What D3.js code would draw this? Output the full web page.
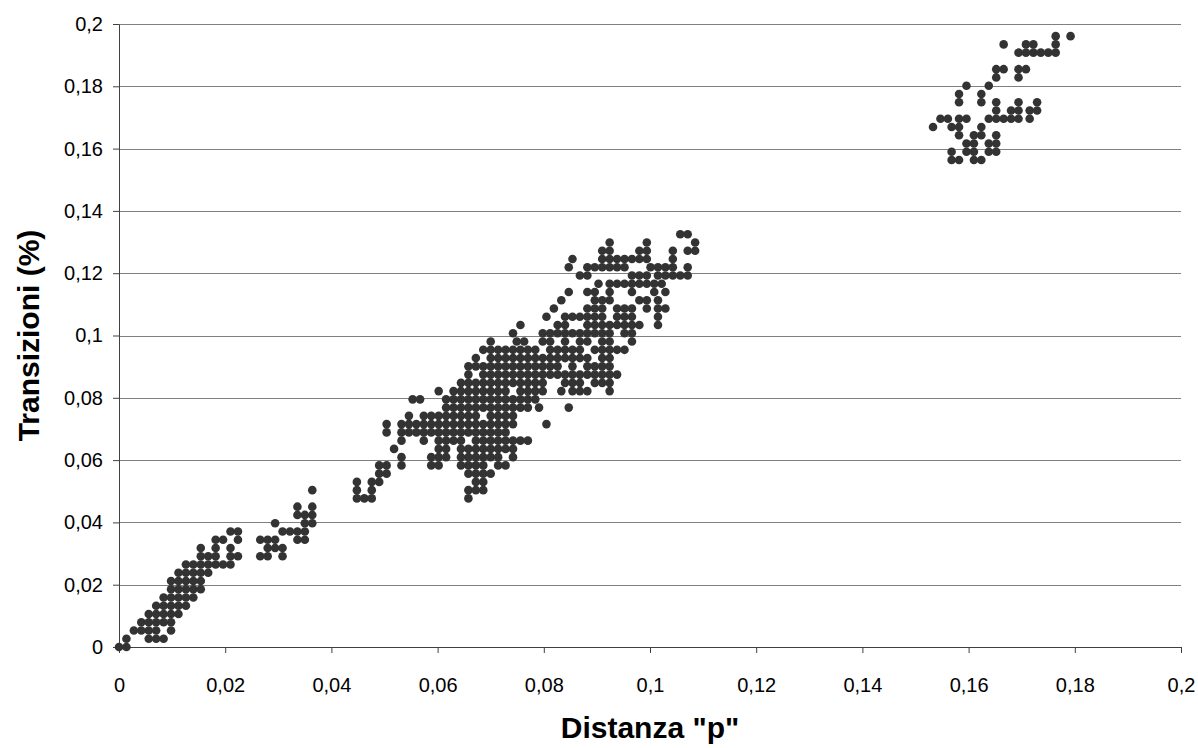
<!DOCTYPE html>
<html><head><meta charset="utf-8">
<script src="https://cdn.jsdelivr.net/npm/d3@7"></script>
<style>
body{margin:0;background:#fff}
svg{display:block}
</style>
</head><body>
<svg id="chart" width="1198" height="748"></svg>
<script>
const xTicks = [0, 0.02, 0.04, 0.06, 0.08, 0.1, 0.12, 0.14, 0.16, 0.18, 0.2];
const xTickLabels = ["0", "0,02", "0,04", "0,06", "0,08", "0,1", "0,12", "0,14", "0,16", "0,18", "0,2"];
const yTicks = [0, 0.02, 0.04, 0.06, 0.08, 0.1, 0.12, 0.14, 0.16, 0.18, 0.2];
const yTickLabels = ["0", "0,02", "0,04", "0,06", "0,08", "0,1", "0,12", "0,14", "0,16", "0,18", "0,2"];
const xTitle = 'Distanza "p"';
const yTitle = 'Transizioni (%)';

// y value of each row of points (Transizioni)
const rowY = [
  0, 0.00265, 0.0053, 0.00795, 0.0106, 0.01325, 0.0159, 0.01855, 0.0212, 0.02385,
  0.0265, 0.02915, 0.0318, 0.03445, 0.0371, 0.03975, 0.0424, 0.04505, 0.0477, 0.05035,
  0.053, 0.05565, 0.0583, 0.06095, 0.0636, 0.06625, 0.0689, 0.07155, 0.0742, 0.07685,
  0.0795, 0.08215, 0.0848, 0.08745, 0.0901, 0.09275, 0.0954, 0.09805, 0.1007, 0.10335,
  0.106, 0.10865, 0.1113, 0.11395, 0.1166, 0.11925, 0.1219, 0.12455, 0.1272, 0.12985,
  0.1325,
  0.15635, 0.159, 0.16165, 0.1643, 0.16695, 0.1696, 0.17225, 0.1749, 0.17755, 0.1802,
  0.18285, 0.1855, 0.1908, 0.19345, 0.1961
];
// x values (Distanza "p") of the points in each row
const rowX = [
  [0, 0.0014],
  [0.0014, 0.0056, 0.007, 0.0084],
  [0.0028, 0.0042, 0.0056, 0.007, 0.0098],
  [0.0042, 0.0056, 0.007, 0.0084, 0.0098],
  [0.0056, 0.007, 0.0084, 0.0098, 0.0112],
  [0.007, 0.0084, 0.0098, 0.0112, 0.0126],
  [0.0084, 0.0098, 0.0112, 0.0126, 0.014],
  [0.0098, 0.0112, 0.0126, 0.014, 0.0154],
  [0.0098, 0.0112, 0.0126, 0.014, 0.0154],
  [0.0112, 0.0126, 0.014, 0.0154, 0.0168],
  [0.0126, 0.014, 0.0154, 0.0168, 0.0182, 0.0196, 0.021],
  [0.0154, 0.0168, 0.0182, 0.021, 0.0224, 0.0266, 0.028, 0.0308],
  [0.0154, 0.0182, 0.021, 0.028, 0.0294, 0.0308],
  [0.0182, 0.0196, 0.0224, 0.0266, 0.028, 0.0294, 0.0336, 0.035],
  [0.021, 0.0224, 0.0308, 0.0322, 0.0336, 0.035],
  [0.0294, 0.035, 0.0364],
  [0.0336, 0.035, 0.0364],
  [0.0336, 0.0364],
  [0.0448, 0.0462, 0.0476, 0.0658],
  [0.0364, 0.0448, 0.0476, 0.0658, 0.0672, 0.0686],
  [0.0448, 0.0476, 0.049, 0.0672, 0.0686],
  [0.049, 0.0504, 0.0658, 0.0672, 0.0686, 0.07],
  [0.049, 0.0504, 0.0532, 0.0588, 0.0602, 0.0644, 0.0658, 0.0672, 0.0686, 0.0714, 0.0728],
  [0.0532, 0.0588, 0.0602, 0.0616, 0.0644, 0.0658, 0.0672, 0.0686, 0.07, 0.0714, 0.0742],
  [0.0518, 0.0602, 0.0616, 0.0644, 0.0658, 0.0672, 0.0686, 0.07, 0.0714, 0.0728, 0.0742],
  [0.0532, 0.0574, 0.0602, 0.0616, 0.063, 0.0644, 0.0672, 0.0686, 0.07, 0.0714, 0.0728, 0.0742, 0.0756, 0.077],
  [0.0504, 0.0532, 0.0546, 0.056, 0.0574, 0.0588, 0.0602, 0.0616, 0.063, 0.0644, 0.0658, 0.0672, 0.0686, 0.07, 0.0714, 0.0728],
  [0.0504, 0.0532, 0.0546, 0.056, 0.0574, 0.0588, 0.0602, 0.0616, 0.063, 0.0644, 0.0658, 0.0672, 0.0686, 0.07, 0.0714, 0.0728, 0.0742, 0.0805],
  [0.0546, 0.0574, 0.0588, 0.0602, 0.0616, 0.063, 0.0644, 0.0658, 0.0672, 0.07, 0.0714, 0.0728, 0.0742],
  [0.0616, 0.063, 0.0644, 0.0658, 0.0672, 0.0686, 0.07, 0.0714, 0.0728, 0.0742, 0.0756, 0.077, 0.0791, 0.0847],
  [0.0553, 0.0567, 0.0616, 0.063, 0.0644, 0.0658, 0.0672, 0.0686, 0.07, 0.0714, 0.0728, 0.0742, 0.0756, 0.077, 0.0784],
  [0.0602, 0.063, 0.0644, 0.0658, 0.0672, 0.0686, 0.07, 0.0714, 0.0728, 0.0756, 0.077, 0.0784, 0.0798, 0.0833, 0.0854, 0.0868, 0.0882, 0.0924],
  [0.0644, 0.0658, 0.0672, 0.0686, 0.07, 0.0714, 0.0728, 0.0742, 0.0756, 0.077, 0.0784, 0.0798, 0.084, 0.0854, 0.0868, 0.0896, 0.091, 0.0924],
  [0.0658, 0.0686, 0.07, 0.0714, 0.0728, 0.0742, 0.0756, 0.077, 0.0784, 0.0798, 0.0812, 0.0826, 0.084, 0.0854, 0.0868, 0.0882, 0.0896, 0.091, 0.0924, 0.0938],
  [0.0658, 0.0672, 0.0686, 0.07, 0.0714, 0.0728, 0.0742, 0.0756, 0.077, 0.0784, 0.0798, 0.0812, 0.0826, 0.0854, 0.0882, 0.0896, 0.091, 0.0924],
  [0.0672, 0.07, 0.0714, 0.0728, 0.0742, 0.0756, 0.077, 0.0784, 0.0798, 0.0812, 0.0826, 0.084, 0.0854, 0.0868, 0.0882, 0.091, 0.0924],
  [0.0686, 0.07, 0.0714, 0.0728, 0.0742, 0.0756, 0.077, 0.0784, 0.0812, 0.0826, 0.084, 0.0854, 0.0868, 0.0896, 0.091, 0.0924, 0.0938, 0.0952],
  [0.07, 0.0749, 0.0763, 0.0798, 0.0812, 0.084, 0.0868, 0.0882, 0.091, 0.0924, 0.0966],
  [0.0742, 0.0798, 0.0812, 0.0826, 0.084, 0.0854, 0.0868, 0.0882, 0.0896, 0.091, 0.0924, 0.0952, 0.0966],
  [0.0756, 0.0826, 0.084, 0.0882, 0.0896, 0.091, 0.0924, 0.0938, 0.0952, 0.0966, 0.098, 0.1015],
  [0.0805, 0.084, 0.0854, 0.0868, 0.0882, 0.0896, 0.091, 0.0938, 0.0952, 0.0966, 0.1015],
  [0.0819, 0.0882, 0.0896, 0.091, 0.0938, 0.0952, 0.0966, 0.0994, 0.1015, 0.1029],
  [0.0833, 0.0896, 0.091, 0.0924, 0.098, 0.0994, 0.1015],
  [0.0847, 0.0882, 0.0896, 0.0924, 0.0966, 0.1008, 0.1029],
  [0.0903, 0.0924, 0.0938, 0.0952, 0.0966, 0.098, 0.0994, 0.1008, 0.1022],
  [0.0868, 0.0882, 0.0966, 0.098, 0.0994, 0.1015, 0.1029, 0.1043, 0.1057, 0.1071],
  [0.0847, 0.0882, 0.0896, 0.091, 0.0924, 0.0938, 0.0952, 0.1001, 0.1015, 0.1029, 0.1043, 0.1071],
  [0.0854, 0.091, 0.0924, 0.0938, 0.0952, 0.0966, 0.098, 0.0994, 0.1043],
  [0.091, 0.0924, 0.098, 0.0994, 0.1043, 0.1071, 0.1085],
  [0.0924, 0.0994, 0.1085],
  [0.1057, 0.1071],
  [0.1568, 0.1582, 0.161, 0.1624],
  [0.1568, 0.1596, 0.161, 0.1638, 0.1652],
  [0.1596, 0.161, 0.1638, 0.1652],
  [0.1582, 0.161, 0.1624, 0.1652],
  [0.1533, 0.1568, 0.1582, 0.1624],
  [0.1547, 0.1561, 0.1582, 0.1596, 0.1638, 0.1652, 0.1666, 0.168, 0.1694, 0.1715],
  [0.1652, 0.168, 0.1694, 0.1715, 0.1729],
  [0.1582, 0.1624, 0.1652, 0.1694, 0.1729],
  [0.1582, 0.1624],
  [0.1596, 0.1638],
  [0.1652, 0.1694],
  [0.1652, 0.1666, 0.1694, 0.1708],
  [0.1694, 0.1708, 0.1722, 0.1736, 0.175, 0.1764],
  [0.1666, 0.1708, 0.1722, 0.1764],
  [0.1764, 0.1792]
];

const points = rowY.flatMap((yv, k) => rowX[k].map(xv => ({x: xv, y: yv})));

const W = 1198, H = 748;
const m = {l: 119, r: 17, t: 24, b: 101};
const FONT = '"Liberation Sans", Arial, Helvetica, sans-serif';

const svg = d3.select('#chart');
svg.append('rect').attr('width', W).attr('height', H).attr('fill', '#fff');

const x = d3.scaleLinear().domain([0, 0.2]).range([m.l, W - m.r]);
const y = d3.scaleLinear().domain([0, 0.2]).range([H - m.b, m.t]);

// horizontal gridlines
svg.append('g')
  .selectAll('line')
  .data(yTicks.filter(d => d > 0))
  .join('line')
  .attr('x1', x(0)).attr('x2', x(0.2))
  .attr('y1', d => Math.round(y(d)) + 0.5).attr('y2', d => Math.round(y(d)) + 0.5)
  .attr('stroke', '#808080').attr('stroke-width', 1);

// axes
const gx = svg.append('g')
  .attr('transform', `translate(0,${Math.round(y(0))})`)
  .call(d3.axisBottom(x).tickValues(xTicks).tickFormat((d, i) => xTickLabels[i])
    .tickSizeInner(6).tickSizeOuter(0).tickPadding(25));
const gy = svg.append('g')
  .attr('transform', `translate(${Math.round(x(0))},0)`)
  .call(d3.axisLeft(y).tickValues(yTicks).tickFormat((d, i) => yTickLabels[i])
    .tickSizeInner(6).tickSizeOuter(0).tickPadding(10));

[gx, gy].forEach(g => {
  g.attr('font-family', FONT).attr('font-size', 20);
  g.select('.domain').attr('stroke', '#404040');
  g.selectAll('.tick line').attr('stroke', '#404040');
  g.selectAll('.tick text').attr('fill', '#000');
});

// axis titles
svg.append('text')
  .attr('x', (x(0) + x(0.2)) / 2).attr('y', 738)
  .attr('text-anchor', 'middle')
  .attr('font-family', FONT).attr('font-weight', 'bold').attr('font-size', 30)
  .text(xTitle);
svg.append('text')
  .attr('transform', `translate(39,${(y(0) + y(0.2)) / 2}) rotate(-90)`)
  .attr('text-anchor', 'middle')
  .attr('font-family', FONT).attr('font-weight', 'bold').attr('font-size', 30)
  .text(yTitle);

// points
svg.append('g')
  .selectAll('circle')
  .data(points)
  .join('circle')
  .attr('cx', d => x(d.x))
  .attr('cy', d => y(d.y))
  .attr('r', 4.3)
  .attr('fill', '#333333');
</script>
</body></html>
